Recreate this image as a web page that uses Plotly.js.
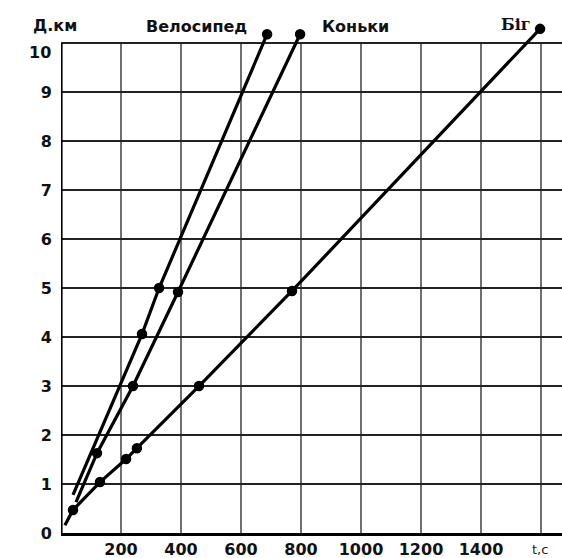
<!DOCTYPE html>
<html>
<head>
<meta charset="utf-8">
<script src="https://cdn.plot.ly/plotly-3.0.1.min.js"></script>
<style>html,body{margin:0;padding:0;background:#fff;}#chart{width:562px;height:558px;}</style>
</head>
<body>
<div id="chart"></div>
<script>
// Data (t in seconds, distance in km)
const bikeName = "Велосипед";
const bikeT = [40, 270, 327, 687];
const bikeD = [0.78, 4.06, 5.0, 10.18];

const skateName = "Коньки";
const skateT = [50, 120, 240, 390, 797];
const skateD = [0.63, 1.63, 3.0, 4.92, 10.18];

const runName = "Біг";
const runT = [13, 40, 130, 217, 253, 460, 770, 1597];
const runD = [0.16, 0.47, 1.04, 1.51, 1.73, 3.0, 4.94, 10.29];

const xTickVals = [200, 400, 600, 800, 1000, 1200, 1400, 1600];
const xTickText = ["200", "400", "600", "800", "1000", "1200", "1400", ""];
const yTickVals = [0, 1, 2, 3, 4, 5, 6, 7, 8, 9, 10];
const yTickText = ["0", "1", "2", "3", "4", "5", "6", "7", "8", "9", "10"];

const xTitle = "t,c";
const yTitle = "Д.км";

const yTop = yTickVals[yTickVals.length - 1];

function mk(t, d) {
  return {
    x: t, y: d, type: "scatter", mode: "lines+markers",
    line: {color: "#000", width: 3.2},
    marker: {color: "#000", opacity: 1, size: t.map((_, i) => i === 0 ? 0 : 9),
             line: {color: "#000", width: 1.5}},
    showlegend: false, hoverinfo: "skip"
  };
}

const traces = [mk(bikeT, bikeD), mk(skateT, skateD), mk(runT, runD)];

const tickFont = {family: "DejaVu Sans", size: 16, color: "#111", weight: "bold"};
const labFont = {family: "DejaVu Sans", size: 16, color: "#111", weight: "bold"};

// the top y label sits a little lower than its gridline, as in the picture
const yTickTextShown = yTickText.map((s, i) => i === yTickText.length - 1 ? "" : s);

// vertical gridlines stop at the top border (y = 10)
const vGrid = xTickVals.map(v => ({
  type: "line", xref: "x", yref: "y", x0: v, x1: v, y0: 0, y1: yTop,
  line: {color: "#222", width: 1.3}, layer: "below"
}));

const layout = {
  width: 562, height: 558,
  margin: {l: 61, r: 0, t: 21, b: 25},
  paper_bgcolor: "#fff", plot_bgcolor: "#fff",
  font: {family: "DejaVu Sans"},
  xaxis: {
    range: [0, 1670], tickmode: "array", tickvals: xTickVals, ticktext: xTickText,
    showgrid: false, zeroline: false,
    showline: true, linecolor: "#000", linewidth: 3, ticks: "",
    tickfont: tickFont, ticklabelstandoff: 0, fixedrange: true
  },
  yaxis: {
    range: [0, 10.45], tickmode: "array", tickvals: yTickVals, ticktext: yTickTextShown,
    showgrid: true, gridcolor: "#222", gridwidth: 1.3, zeroline: false,
    showline: false, ticks: "",
    tickfont: tickFont, ticklabelstandoff: 8, fixedrange: true
  },
  shapes: vGrid.concat([
    {type: "line", xref: "paper", yref: "y", x0: 0, x1: 1, y0: yTop, y1: yTop,
     line: {color: "#000", width: 2}, layer: "below"},
    {type: "line", xref: "x", yref: "y", x0: 0, x1: 0, y0: 0, y1: yTop,
     line: {color: "#000", width: 3.2}, layer: "above"}
  ]),
  annotations: [
    {text: bikeName, xref: "x", yref: "y", x: 450, y: 10.33, yanchor: "middle", showarrow: false, font: labFont},
    {text: skateName, xref: "x", yref: "y", x: 980, y: 10.33, yanchor: "middle", showarrow: false, font: labFont},
    {text: runName, xref: "x", yref: "y", x: 1518, y: 10.38, yanchor: "middle", showarrow: false,
     font: {family: "DejaVu Serif", size: 16, color: "#111", weight: "bold"}},
    {text: yTitle, xref: "paper", yref: "y", x: -0.06, y: 10.35, yanchor: "middle", showarrow: false, font: labFont},
    {text: yTickText[yTickText.length - 1], xref: "paper", yref: "y", x: -0.016, y: yTop - 0.2,
     xanchor: "right", yanchor: "middle", showarrow: false, font: tickFont},
    {text: xTitle, xref: "x", yref: "paper", x: 1597, y: -0.033, yanchor: "middle", showarrow: false,
     font: {family: "DejaVu Sans", size: 13, color: "#222"}}
  ]
};

Plotly.newPlot("chart", traces, layout, {staticPlot: true, displayModeBar: false});
</script>
</body>
</html>
